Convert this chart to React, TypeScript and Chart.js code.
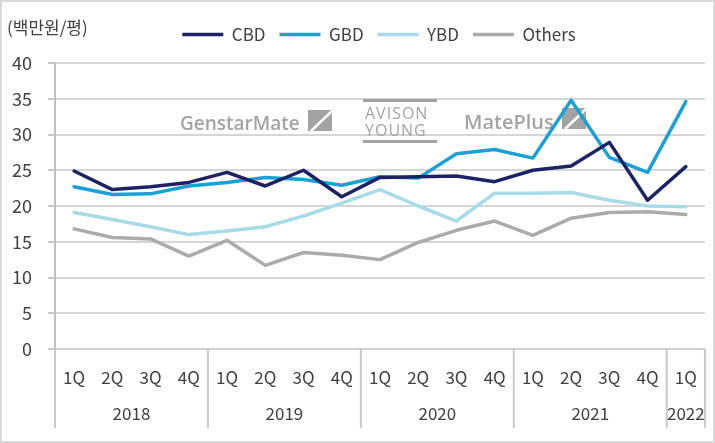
import React, { useEffect, useRef } from "react";
import { Chart, registerables } from "chart.js";

Chart.register(...registerables);

const quarters = ["1Q", "2Q", "3Q", "4Q", "1Q", "2Q", "3Q", "4Q", "1Q", "2Q", "3Q", "4Q", "1Q", "2Q", "3Q", "4Q", "1Q"];
const years = ["2018", "2019", "2020", "2021", "2022"];
const yearSpans = [4, 4, 4, 4, 1];
const unitLabel = "(백만원/평)";

const cbd = [24.9, 22.3, 22.7, 23.3, 24.7, 22.8, 25.0, 21.3, 24.0, 24.1, 24.2, 23.4, 25.0, 25.6, 28.9, 20.8, 25.5];
const gbd = [22.7, 21.6, 21.7, 22.8, 23.3, 24.0, 23.7, 22.9, 24.1, 23.9, 27.3, 27.9, 26.7, 34.8, 26.8, 24.7, 34.6];
const ybd = [19.1, 18.1, 17.1, 16.0, 16.5, 17.1, 18.6, 20.4, 22.3, 20.0, 17.9, 21.8, 21.8, 21.9, 20.8, 20.0, 19.9];
const others = [16.8, 15.6, 15.4, 13.0, 15.2, 11.7, 13.5, 13.1, 12.5, 14.9, 16.6, 17.9, 15.9, 18.3, 19.1, 19.2, 18.8];

const FONT = "'Noto Sans CJK KR', 'Noto Sans', sans-serif";
const TEXT = "#404040";
const LOGO = "#a3a3a3";

function drawIcon(ctx: CanvasRenderingContext2D, x: number, y: number, w: number, h: number) {
  ctx.save();
  ctx.fillStyle = LOGO;
  ctx.fillRect(x, y, w, h);
  ctx.strokeStyle = "#ffffff";
  ctx.lineWidth = 2.5;
  ctx.beginPath();
  ctx.moveTo(x + 3, y + h);
  ctx.lineTo(x + w, y + 1);
  ctx.stroke();
  ctx.restore();
}

const decor = {
  id: "decor",
  beforeLayout(chart: any) {
    const lg = chart.legend;
    if (lg && !lg.__patched) {
      const orig = lg.fit;
      lg.fit = function () {
        orig.call(this);
        this.height = 63;
      };
      lg.__patched = true;
    }
  },
  afterLayout(chart: any) {
    const lg = chart.legend;
    if (lg) {
      const dx = 24;
      const dy = 12;
      lg.left += dx;
      lg.right += dx;
      lg.top += dy;
      lg.bottom += dy;
    }
  },
  beforeDatasetsDraw(chart: any) {
    const ctx: CanvasRenderingContext2D = chart.ctx;
    ctx.save();
    ctx.fillStyle = LOGO;
    ctx.textBaseline = "alphabetic";
    ctx.textAlign = "left";
    // GenstarMate
    ctx.font = `600 19px 'Open Sans', sans-serif`;
    ctx.fillText("GenstarMate", 180, 130, 126);
    drawIcon(ctx, 308, 110, 24, 21);
    // AVISON YOUNG
    ctx.fillRect(363, 99, 74, 3);
    ctx.fillRect(363, 140, 74, 3);
    ctx.font = `400 16px 'Open Sans', sans-serif`;
    (ctx as any).letterSpacing = "1px";
    ctx.fillText("AVISON", 365, 119, 70);
    ctx.fillText("YOUNG", 365, 136, 70);
    (ctx as any).letterSpacing = "0px";
    // MatePlus
    ctx.font = `600 20px 'Open Sans', sans-serif`;
    ctx.fillText("MatePlus", 464, 129, 94);
    drawIcon(ctx, 562, 108, 24, 21);
    ctx.restore();
  },
  afterDraw(chart: any) {
    const ctx: CanvasRenderingContext2D = chart.ctx;
    const xs = chart.scales.x;
    const px = (i: number) => xs.getPixelForValue(i);
    const top = xs.top;
    const bottom = 428;
    const bounds: number[] = [xs.left];
    let k = 0;
    yearSpans.forEach((s, idx) => {
      k += s;
      if (idx < yearSpans.length - 1) bounds.push((px(k - 1) + px(k)) / 2);
      else bounds.push(xs.right);
    });
    ctx.save();
    ctx.strokeStyle = "#c8c8c8";
    ctx.lineWidth = 2;
    bounds.forEach((b) => {
      ctx.beginPath();
      ctx.moveTo(b, top);
      ctx.lineTo(b, bottom);
      ctx.stroke();
    });
    ctx.fillStyle = TEXT;
    ctx.font = `17px ${FONT}`;
    ctx.textAlign = "center";
    ctx.textBaseline = "middle";
    years.forEach((y, i) => {
      ctx.fillText(y, (bounds[i] + bounds[i + 1]) / 2, 414);
    });
    ctx.textAlign = "left";
    ctx.fillText(unitLabel, 7, 28);
    ctx.restore();
  },
};

export default function App() {
  const ref = useRef<HTMLCanvasElement | null>(null);
  useEffect(() => {
    document.body.style.margin = "0";
    if (!ref.current) return;
    const mk = (label: string, data: number[], color: string) => ({
      label,
      data,
      borderColor: color,
      backgroundColor: color,
      borderWidth: 3.5,
      pointRadius: 0,
      pointHoverRadius: 0,
      pointStyle: "line" as const,
      tension: 0,
      borderJoinStyle: "round" as const,
      borderCapStyle: "round" as const,
    });
    const chart = new Chart(ref.current, {
      type: "line",
      data: {
        labels: quarters,
        datasets: [
          mk("CBD", cbd, "#1c2364"),
          mk("GBD", gbd, "#1ba0d5"),
          mk("YBD", ybd, "#a7dbe7"),
          mk("Others", others, "#ababab"),
        ],
      },
      options: {
        responsive: false,
        animation: false,
        layout: { padding: { left: 0, right: 5, top: 0, bottom: 0 } },
        plugins: {
          tooltip: { enabled: false },
          legend: {
            position: "top",
            labels: {
              usePointStyle: true,
              pointStyle: "line",
              pointStyleWidth: 41,
              padding: 14,
              color: TEXT,
              font: { family: FONT, size: 17 },
            },
          },
        },
        scales: {
          x: {
            type: "category",
            offset: true,
            grid: { display: false, drawTicks: false },
            border: { display: true, color: "#d0d0d0", width: 2 },
            ticks: {
              color: TEXT,
              font: { family: FONT, size: 17 },
              padding: 18,
              autoSkip: false,
              maxRotation: 0,
            },
            afterFit: (s: any) => {
              s.height = 94;
            },
          },
          y: {
            min: 0,
            max: 40,
            ticks: {
              stepSize: 5,
              color: TEXT,
              font: { family: FONT, size: 18 },
              padding: 16,
            },
            grid: { color: "#d6d6d6", lineWidth: 2, tickLength: 7, tickColor: "#c8c8c8" },
            border: { display: true, color: "#c0c0c0", width: 2 },
            afterFit: (s: any) => {
              s.width = 55;
            },
          },
        },
      },
      plugins: [decor],
    });
    return () => chart.destroy();
  }, []);
  return (
    <div style={{ position: "relative", width: 715, height: 443, background: "#fff" }}>
      <canvas ref={ref} width={715} height={443} style={{ width: 715, height: 443, display: "block" }} />
      <div
        style={{
          position: "absolute",
          left: 0,
          top: 0,
          width: 715,
          height: 443,
          boxSizing: "border-box",
          border: "2px solid #d9d9d9",
          pointerEvents: "none",
        }}
      />
    </div>
  );
}
